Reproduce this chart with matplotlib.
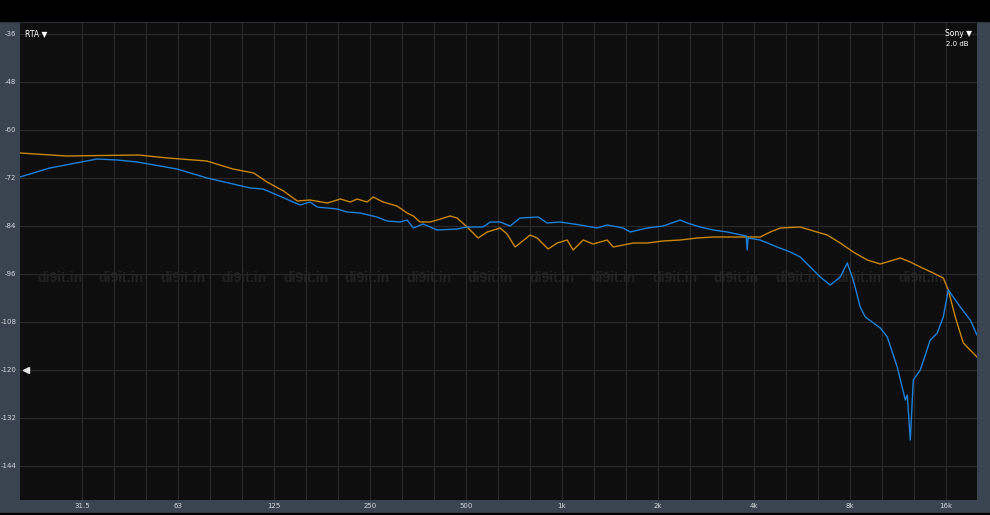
import numpy as np
import matplotlib
matplotlib.use("Agg")
import matplotlib.pyplot as plt
from matplotlib.patches import Rectangle
from matplotlib.transforms import blended_transform_factory

# orange trace (freq Hz, level dB)
orange_freq = [20, 28, 47, 58, 77, 93, 108, 119, 134, 148, 162, 184, 202, 217, 228, 245, 256, 275,
               304, 327, 342, 359, 386, 406, 446, 469, 504, 546, 583, 640, 673, 713, 795, 836, 905,
               966, 1038, 1084, 1166, 1252, 1386, 1447, 1672, 1849, 2076, 2348, 2654, 2980, 3296,
               3620, 4182, 4496, 4834, 5584, 6002, 6784, 7454, 8186, 9058, 9950, 11494, 12356,
               13280, 14580, 15680, 16254, 17100, 18116, 20000]
orange_db = [-65.75, -66.5, -66.25, -67, -67.75, -69.75, -70.75, -73, -75.25, -77.75, -77.5, -78.25,
             -77.25, -78, -77.25, -78, -76.75, -78, -79, -80.75, -81.5, -83, -83, -82.5, -81.5, -82,
             -84.25, -87, -85.5, -84.5, -86, -89.25, -86.25, -87, -89.75, -88.25, -87.5, -90, -87.5,
             -88.5, -87.5, -89.25, -88.25, -88.25, -87.75, -87.5, -87, -86.75, -86.75, -86.75,
             -86.75, -85.5, -84.5, -84.25, -85, -86.25, -88.25, -90.5, -92.5, -93.5, -92, -93,
             -94.25, -95.75, -97, -100, -106.75, -113.25, -116.75]

# blue trace
blue_freq = [20, 24.8, 34.9, 40.3, 46.6, 62.1, 77.2, 93.1, 105.3, 115.6, 127.9, 151, 162.3, 170.7,
             197.3, 212, 233, 263, 283, 311, 327, 342, 367, 406, 469, 504, 566, 596, 640, 688, 739,
             842, 899, 987, 1140, 1289, 1386, 1556, 1636, 1849, 2076, 2348, 2470, 2712, 2980, 3296,
             3780, 3808, 3830, 4182, 4728, 5196, 5584, 6002, 6450, 6934, 7454, 7840, 8186, 8610,
             8926, 9950, 10464, 11246, 11920, 12092, 12356, 12626, 13280, 14272, 15014, 15680,
             16254, 17728, 19052, 20000]
blue_db = [-71.75, -69.5, -67.25, -67.5, -68, -69.75, -72, -73.5, -74.5, -74.75, -76.25, -78.75, -78,
           -79.25, -79.75, -80.5, -80.75, -81.75, -82.75, -83, -82.5, -84.5, -83.5, -85, -84.75,
           -84.25, -84.25, -83, -83, -84, -82, -81.75, -83.25, -83, -83.75, -84.5, -83.75, -84.5,
           -85.5, -84.5, -84, -82.5, -83.25, -84.25, -85, -85.5, -86.5, -90, -87, -87.5, -89.25,
           -90.5, -91.75, -94.25, -96.75, -98.75, -96.75, -93.25, -97.5, -104.25, -106.75, -109.5,
           -111.75, -119.25, -127.5, -126.25, -137.5, -122.5, -120, -112.5, -110.75, -106.75, -100,
           -104.25, -107.5, -111.25]

y_ticks = [-36, -48, -60, -72, -84, -96, -108, -120, -132, -144]
x_tick_freqs = [31.25, 62.5, 125, 250, 500, 1000, 2000, 4000, 8000, 16000]
x_tick_labels = ["31.5", "63", "125", "250", "500", "1k", "2k", "4k", "8k", "16k"]

W, H = 990, 515
fig = plt.figure(figsize=(W / 100, H / 100), dpi=100, facecolor="#3a4450")
ax = fig.add_axes([20 / W, 15 / H, 957 / W, 478 / H])
ax.set_facecolor("#0e0e0e")

# black title strip and bottom edge
fig.patches.append(Rectangle((0, (H - 21) / H), 1, 21 / H, transform=fig.transFigure,
                             color="black", zorder=0))
fig.patches.append(Rectangle((0, 0), 1, 2 / H, transform=fig.transFigure, color="black", zorder=0))

ax.set_xscale("log")
ax.set_xlim(20, 20000)
ax.set_ylim(-152.5, -33)

# 1/3 octave grid
for k in range(-15, 14):
    ax.axvline(1000 * 2 ** (k / 3), color="#2a2a2a", lw=0.8, zorder=1)
for yv in y_ticks:
    ax.axhline(yv, color="#2a2a2a", lw=0.8, zorder=1)

# watermark
wm = blended_transform_factory(ax.transAxes, ax.transData)
for i in range(15):
    ax.text((37 + i * 61.5 - 20) / 957, -97, "di9it.in", transform=wm, family="Liberation Sans",
            color="#232323", fontsize=10, fontweight="bold", va="center", ha="left", clip_on=True, zorder=2)

ax.plot(orange_freq, orange_db, color="#c8860c", lw=1.0, zorder=3)
ax.plot(blue_freq, blue_db, color="#1e80d8", lw=1.0, zorder=4)

ax.set_yticks(y_ticks)
ax.set_yticklabels([str(v) for v in y_ticks])
ax.set_xticks(x_tick_freqs)
ax.set_xticklabels(x_tick_labels)
ax.xaxis.set_minor_locator(matplotlib.ticker.NullLocator())
ax.tick_params(axis="both", length=0, labelsize=5, labelcolor="#d4d8dc")
ax.tick_params(axis="y", pad=2.5)
ax.tick_params(axis="x", pad=2.5)

for s in ["left", "right", "bottom"]:
    ax.spines[s].set_visible(False)
ax.spines["top"].set_color("#333a42")
ax.spines["top"].set_linewidth(1.5)

# UI labels
ax.text(0.005, 0.985, "RTA \u25bc", transform=ax.transAxes, color="white", fontsize=5.5,
        va="top", ha="left")
ax.text(0.995, 0.985, "Sony \u25bc", transform=ax.transAxes, color="white", fontsize=5.5,
        va="top", ha="right")
ax.text(0.968, 0.96, "2.0 dB", transform=ax.transAxes, color="white", fontsize=5,
        va="top", ha="left")

# level marker
ax.plot([0.006], [-120], marker="<", color="#e6e6e6", markersize=5,
        transform=wm, clip_on=False, zorder=5)

fig.savefig("out.png", dpi=100, facecolor=fig.get_facecolor())
